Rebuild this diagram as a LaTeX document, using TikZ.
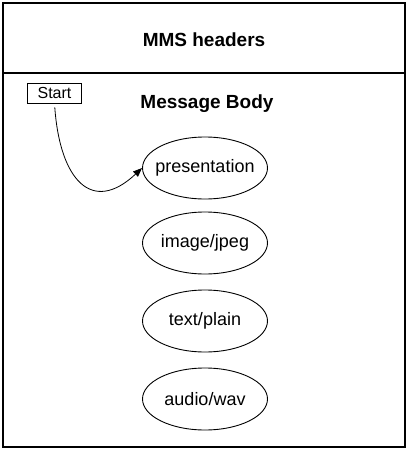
\documentclass[tikz,border=0pt]{standalone}
\usepackage{fontspec}
\setmainfont{Liberation Sans}
\usetikzlibrary{shapes.geometric,arrows.meta}
\newcommand{\ztext}[1]{\makebox[0pt]{#1}}
\tikzset{
  part/.style={ellipse,draw,line width=0.9pt,minimum width=125pt,minimum height=62pt,inner sep=0pt,font=\fontsize{18}{20}\selectfont},
  title/.style={font=\fontsize{19}{21}\selectfont\bfseries,inner sep=0pt},
  startbox/.style={draw,line width=0.9pt,minimum width=54pt,minimum height=20pt,inner sep=0pt,font=\fontsize{16}{18}\selectfont},
  frame/.style={line width=1.3pt},
  link/.style={line width=0.8pt,-{Triangle[length=9pt,width=7pt]},shorten <=4pt}
}
\begin{document}
\begin{tikzpicture}[x=1pt,y=-1pt]
\useasboundingbox (0,0) rectangle (408,450);
\draw[frame] (3,3) rectangle (405,447);
\draw[frame] (3,73) -- (405,73);
\node[title] (mms) at (204,40) {MMS headers};
\node[title] (body) at (207,104) {Message Body};
\node[startbox] (start) at (54.5,93) {Start};
\node[part] (pres) at (205,168) {\ztext{presentation}};
\node[part] (img) at (205,243) {\ztext{image/jpeg}};
\node[part] (txt) at (205,321) {\ztext{text/plain}};
\node[part] (aud) at (205,399) {\ztext{audio/wav}};
\draw[link] (start.south) .. controls (60,180) and (92,215) .. (pres.west);
\end{tikzpicture}
\end{document}
